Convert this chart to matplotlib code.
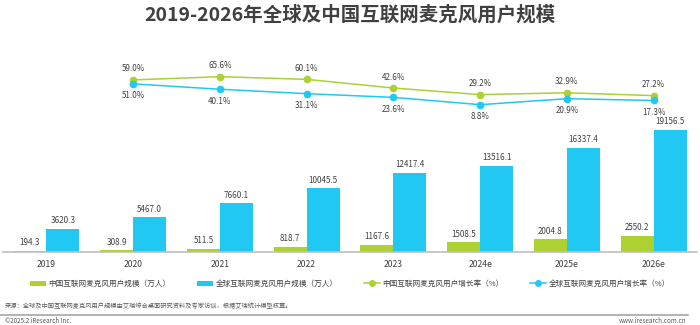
import numpy as np
import matplotlib
matplotlib.use("Agg")
from matplotlib import pyplot as plt
from matplotlib.lines import Line2D
from matplotlib.patches import Patch

plt.rcParams['font.family'] = ['Noto Sans CJK SC', 'DejaVu Sans']

years = ["2019", "2020", "2021", "2022", "2023", "2024e", "2025e", "2026e"]
china_users = [194.3, 308.9, 511.5, 818.7, 1167.6, 1508.5, 2004.8, 2550.2]
global_users = [3620.3, 5467.0, 7660.1, 10045.5, 12417.4, 13516.1, 16337.4, 19156.5]
# growth rates start from 2020
china_growth = [59.0, 65.6, 60.1, 42.6, 29.2, 32.9, 27.2]
global_growth = [51.0, 40.1, 31.1, 23.6, 8.8, 20.9, 17.3]

green = "#acd130"
blue = "#20c8f2"
text_color = "#404040"

W, H = 700, 325
fig = plt.figure(figsize=(7, 3.25), dpi=100)

def fx(px):
    return px / W

def fy(py):
    return 1 - py / H

# bars and lines share one axes box; the line axis is scaled so the lines sit above the bars
ax = fig.add_axes([fx(3), fy(252), fx(694), (252 - 60) / H])
x = np.arange(len(years))
w = 0.38
ax.bar(x - w / 2, china_users, width=w, color=green, zorder=2)
ax.bar(x + w / 2, global_users, width=w, color=blue, zorder=2)
ax.set_ylim(0, 30140)
ax.set_xlim(-0.5, len(years) - 0.5)
for i in range(len(years)):
    ax.annotate(f"{china_users[i]:.1f}", (x[i] - w / 2, china_users[i]), xytext=(0, 8),
                textcoords="offset pixels", ha="center", va="center", fontsize=5.8, color=text_color)
    ax.annotate(f"{global_users[i]:.1f}", (x[i] + w / 2, global_users[i]), xytext=(0, 8),
                textcoords="offset pixels", ha="center", va="center", fontsize=5.8, color=text_color)

for s in ["top", "right", "left"]:
    ax.spines[s].set_visible(False)
ax.spines["bottom"].set_color("#bfbfbf")
ax.spines["bottom"].set_linewidth(1.2)
ax.set_yticks([])
ax.set_xticks(x)
ax.set_xticklabels(years, fontsize=6.2, color=text_color)
ax.tick_params(axis="x", length=0, pad=6)

ax2 = ax.twinx()
ax2.set_ylim(-290, 99.4)
xl = x[1:]
ax2.plot(xl, china_growth, color=green, lw=1.1, marker="o", ms=4.5, zorder=3)
ax2.plot(xl, global_growth, color=blue, lw=1.1, marker="o", ms=4.5, zorder=3)
for i in range(len(xl)):
    ax2.annotate(f"{china_growth[i]:.1f}%", (xl[i], china_growth[i]), xytext=(0, 11),
                 textcoords="offset pixels", ha="center", va="center", fontsize=5.8, color=text_color)
    ax2.annotate(f"{global_growth[i]:.1f}%", (xl[i], global_growth[i]), xytext=(0, -12),
                 textcoords="offset pixels", ha="center", va="center", fontsize=5.8, color=text_color)
ax2.axis("off")

fig.text(0.5, fy(15), "2019-2026年全球及中国互联网麦克风用户规模", ha="center", va="center",
         fontsize=14, fontweight="bold", color=text_color)

handles = [
    Patch(facecolor=green, label="中国互联网麦克风用户规模（万人）"),
    Patch(facecolor=blue, label="全球互联网麦克风用户规模（万人）"),
    Line2D([], [], color=green, lw=1.1, marker="o", ms=4, label="中国互联网麦克风用户增长率（%）"),
    Line2D([], [], color=blue, lw=1.1, marker="o", ms=4, label="全球互联网麦克风用户增长率（%）"),
]
fig.legend(handles=handles, loc="center", bbox_to_anchor=(0.5, fy(284)), ncol=4, frameon=False,
           fontsize=5.5, labelcolor=text_color, handlelength=2.1, handleheight=0.7,
           columnspacing=3.5, handletextpad=0.3, borderpad=0, borderaxespad=0)

fig.text(fx(5), fy(306), "来源：全球及中国互联网麦克风用户规模由艾瑞综合桌面研究资料及专家访谈，根据艾瑞统计模型核算。",
         ha="left", va="center", fontsize=4.5, color="#595959")
fig.add_artist(Line2D([0, fx(688)], [fy(315), fy(315)], color="#a6a6a6", lw=1.2))
fig.text(fx(5), fy(321), "©2025.2 iResearch Inc.", ha="left", va="center", fontsize=4.5, color="#595959")
fig.text(fx(686), fy(321), "www.iresearch.com.cn", ha="right", va="center", fontsize=4.5, color="#595959")

fig.savefig("out.png", dpi=100)
